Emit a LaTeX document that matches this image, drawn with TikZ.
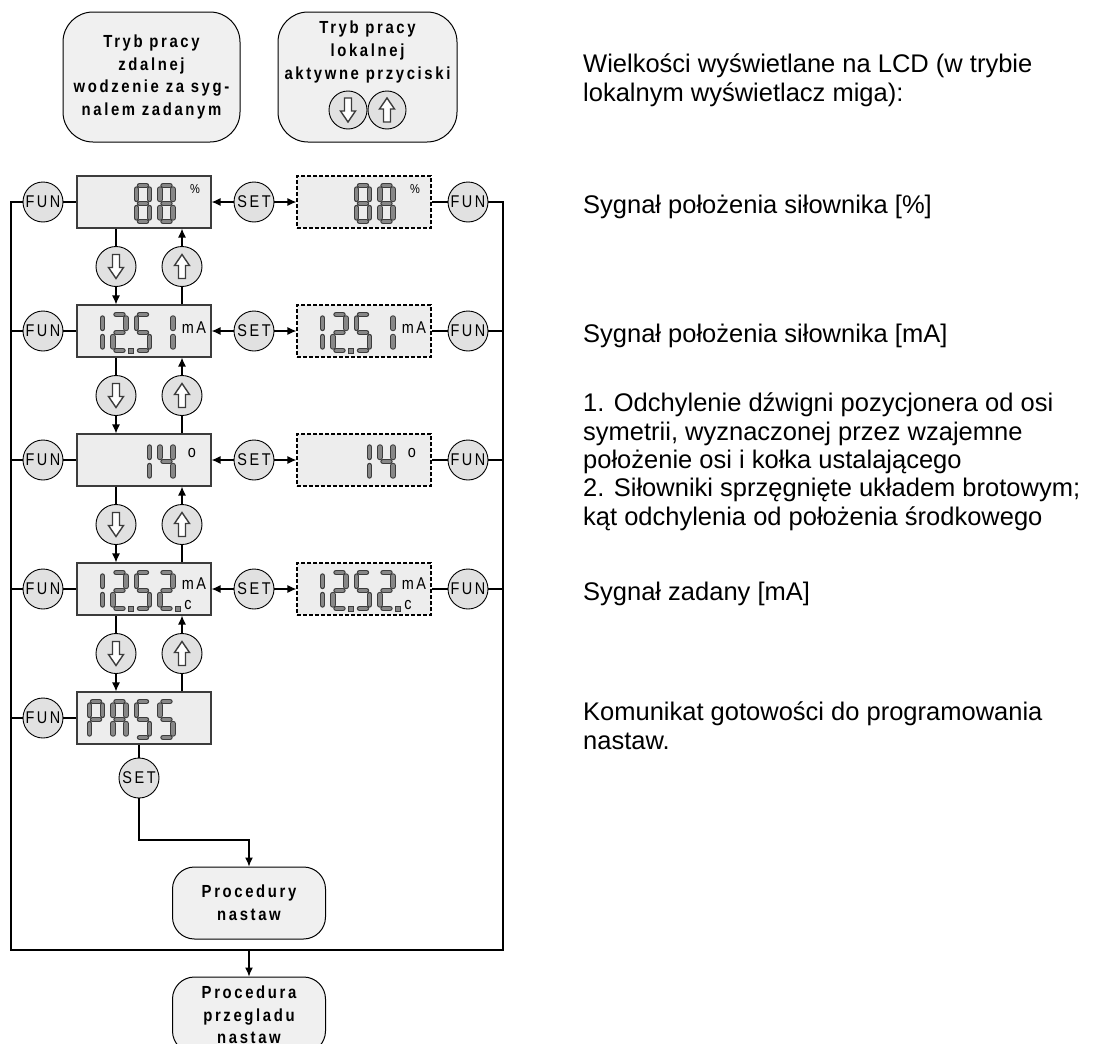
\documentclass[tikz,border=0pt]{standalone}
\usepackage{fontspec}
\setmainfont{Liberation Sans}
\newfontfamily\waskie[FakeStretch=0.85,LetterSpace=15]{Liberation Sans}
\usetikzlibrary{arrows.meta,calc,positioning}
\definecolor{przycisk}{HTML}{E1E1E1}
\definecolor{ekran}{HTML}{EDEDED}
\definecolor{ramka}{HTML}{F0F0F0}
\definecolor{segment}{HTML}{878787}
\definecolor{krawedz}{HTML}{3C3C3C}

% segmenty wyswietlacza (komorka 18 x 41, poczatek w lewym gornym rogu)
\newcommand\odcinek[2]{\draw[segkraw] (#1) -- (#2); \draw[segsrod] (#1) -- (#2);}
\newcommand\segA{\odcinek{5.5,2.5}{12.5,2.5}}
\newcommand\segB{\odcinek{15.5,6}{15.5,16.5}}
\newcommand\segC{\odcinek{15.5,24.5}{15.5,35}}
\newcommand\segD{\odcinek{5.5,38.5}{12.5,38.5}}
\newcommand\segE{\odcinek{2.5,24.5}{2.5,35}}
\newcommand\segF{\odcinek{2.5,6}{2.5,16.5}}
\newcommand\segG{\odcinek{5.5,20.5}{12.5,20.5}}
\newcommand\cJeden{\segB\segC}
\newcommand\cDwa{\segA\segB\segG\segE\segD}
\newcommand\cCztery{\segF\segG\segB\segC}
\newcommand\cPiec{\segA\segF\segG\segC\segD}
\newcommand\cOsiem{\segA\segB\segC\segD\segE\segF\segG}
\newcommand\cP{\segA\segB\segF\segG\segE}
\newcommand\cA{\segA\segB\segC\segE\segF\segG}
\newcommand\znak[2]{\begin{scope}[shift={({-57+23.5*#1},-19)}]#2\end{scope}}
\newcommand\kropka[1]{\draw[kropka] ({#1-2.5},17.5) rectangle ({#1+2.5},22.5);}

% tresc wyswietlaczy (#1 = przedrostek nazw)
\newcommand\ekranProc[1]{\znak{2}{\cOsiem}\znak{3}{\cOsiem}
  \node[jedn, font=\waskie\fontsize{13}{13}\selectfont] (#1j) at (51,-13) {\%};}
\newcommand\ekranMA[1]{\znak{0}{\cJeden}\znak{1}{\cDwa}\znak{2}{\cPiec}\znak{3}{\cJeden}
  \kropka{-13}\node[jedn] (#1j) at (50,-3) {mA};}
\newcommand\ekranKat[1]{\znak{2}{\cJeden}\znak{3}{\cCztery}
  \node[jedn] (#1j) at (48,-7) {o};}
\newcommand\ekranZad[1]{\znak{0}{\cJeden}\znak{1}{\cDwa}\znak{2}{\cPiec}\znak{3}{\cDwa}
  \kropka{-13}\kropka{34}\node[jedn] (#1j) at (50,-5) {mA};
  \node[jedn] (#1c) at (44,16) {c};}
\newcommand\ekranPass{\znak{0}{\cP}\znak{1}{\cA}\znak{2}{\cPiec}\znak{3}{\cPiec}}

\tikzset{
  pics/strzdol/.style={code={\draw[symb] (-3.5,-12) -- (3.5,-12) -- (3.5,1) -- (7.5,1)
      -- (0,12) -- (-7.5,1) -- (-3.5,1) -- cycle;}},
  pics/strzgora/.style={code={\draw[symb] (-3.5,12) -- (3.5,12) -- (3.5,-1) -- (7.5,-1)
      -- (0,-12) -- (-7.5,-1) -- (-3.5,-1) -- cycle;}}
}

\begin{document}
\begin{tikzpicture}[x=1pt, y=-1pt, >={Latex[length=9pt,width=8pt]},
    linia/.style={line width=1.2pt},
    przyc/.style={circle, draw, fill=przycisk, minimum size=40pt, inner sep=0pt,
                  line width=0.9pt, font=\waskie\fontsize{17}{17}\selectfont},
    lcd/.style={draw=krawedz, fill=ekran, minimum width=134pt, minimum height=52pt,
                inner sep=0pt, line width=1.1pt},
    lcdm/.style={lcd, draw=black, dash pattern=on 4pt off 2pt},
    tryb/.style={draw, fill=ramka, rounded corners=30pt, align=center, inner sep=0pt,
                 line width=1pt, font=\waskie\bfseries\fontsize{17.5}{22.7}\selectfont},
    napis/.style={align=center, inner sep=0pt, font=\waskie\bfseries\fontsize{17.5}{22.7}\selectfont},
    symb/.style={draw=krawedz, fill=white, line width=1.4pt},
    segkraw/.style={draw=krawedz, line width=5.4pt, line cap=round},
    segsrod/.style={draw=segment, line width=3.4pt, line cap=round},
    kropka/.style={draw=krawedz, fill=segment, line width=0.8pt},
    jedn/.style={inner sep=0pt, font=\waskie\fontsize{17}{17}\selectfont},
    opis/.style={anchor=base west, align=left, inner sep=0pt,
                 font=\fontsize{25.5}{28.3}\selectfont}]
  \path[use as bounding box, fill=white] (0,0) rectangle (1104,1044);

  % tryby pracy
  \node[tryb, minimum width=177pt, minimum height=130pt] (zdal) at (151.5,77)
    {Tryb pracy\\zdalnej\\wodzenie za syg-\\nalem zadanym};
  \node[tryb, minimum width=179pt, minimum height=130pt] (lok) at (367.5,77) {};
  \node[napis] (loktxt) at (367.5,52) {Tryb pracy\\lokalnej\\aktywne przyciski};
  \node[przyc, minimum size=38pt] (lokdol) at (348,110) {};
  \node[przyc, minimum size=38pt] (lokgora) at (387,110) {};
  \pic at (lokdol) {strzdol};
  \pic at (lokgora) {strzgora};

  % wiersze menu
  \foreach \i/\y in {1/202,2/331,3/460,4/589} {
    \node[lcd] (lcdL\i) at (144,\y) {};
    \node[lcdm] (lcdR\i) at (364,\y) {};
    \node[przyc] (funL\i) at (43,\y) {FUN};
    \node[przyc] (set\i) at (254,\y) {SET};
    \node[przyc] (funR\i) at (468,\y) {FUN};
    \draw[linia] (funL\i) -- (lcdL\i);
    \draw[linia, ->] (set\i) -- (lcdL\i);
    \draw[linia, ->] (set\i) -- (lcdR\i);
    \draw[linia] (lcdR\i) -- (funR\i);
  }
  \node[lcd] (lcdL5) at (144,718) {};
  \node[przyc] (funL5) at (43,718) {FUN};
  \draw[linia] (funL5) -- (lcdL5);

  % zawartosc wyswietlaczy
  \begin{scope}[shift={(lcdL1.center)}] \ekranProc{L1} \end{scope}
  \begin{scope}[shift={(lcdR1.center)}] \ekranProc{R1} \end{scope}
  \begin{scope}[shift={(lcdL2.center)}] \ekranMA{L2} \end{scope}
  \begin{scope}[shift={(lcdR2.center)}] \ekranMA{R2} \end{scope}
  \begin{scope}[shift={(lcdL3.center)}] \ekranKat{L3} \end{scope}
  \begin{scope}[shift={(lcdR3.center)}] \ekranKat{R3} \end{scope}
  \begin{scope}[shift={(lcdL4.center)}] \ekranZad{L4} \end{scope}
  \begin{scope}[shift={(lcdR4.center)}] \ekranZad{R4} \end{scope}
  \begin{scope}[shift={(lcdL5.center)}] \ekranPass \end{scope}

  % przyciski gora/dol
  \foreach \i/\j/\y in {1/2/266.5,2/3/395.5,3/4/524.5,4/5/653.5} {
    \node[przyc] (dol\i) at (116,\y) {};
    \node[przyc] (gora\i) at (182,\y) {};
    \pic at (dol\i) {strzdol};
    \pic at (gora\i) {strzgora};
    \draw[linia] (lcdL\i.south -| dol\i) -- (dol\i);
    \draw[linia, ->] (dol\i) -- (dol\i |- lcdL\j.north);
    \draw[linia] (lcdL\j.north -| gora\i) -- (gora\i);
    \draw[linia, ->] (gora\i) -- (gora\i |- lcdL\i.south);
  }

  % petla FUN
  \coordinate (lg) at (11,202);
  \coordinate (ld) at (11,950);
  \coordinate (pd) at (503,950);
  \coordinate (pg) at (503,202);
  \draw[linia] (funL1) -- (lg) -- (ld) -- (pd) -- (pg) -- (funR1);
  \foreach \i in {2,3,4,5} \draw[linia] (funL\i) -- (funL\i -| lg);
  \foreach \i in {2,3,4} \draw[linia] (funR\i) -- (funR\i -| pg);

  % procedury
  \node[przyc] (setP) at (139,778) {SET};
  \draw[linia] (lcdL5.south -| setP) -- (setP);
  \node[tryb, minimum width=153pt, minimum height=72pt, rounded corners=22pt] (nast) at (249,903)
    {Procedury\\nastaw};
  \node[tryb, minimum width=153pt, minimum height=76pt, rounded corners=22pt] (przeg) at (249,1015)
    {Procedura\\przegladu\\nastaw};
  \coordinate (kolano) at (249,840);
  \coordinate (petla) at (249,950);
  \draw[linia, ->] (setP) |- (kolano) -- (nast);
  \draw[linia, ->] (petla) -- (przeg);

  % opisy (base = ostatni wiersz)
  \node[opis] (t0) at (583,101) {Wielkości wyświetlane na LCD (w trybie\\lokalnym wyświetlacz miga):};
  \node[opis] (t1) at (583,213) {Sygnał położenia siłownika [\%]};
  \node[opis] (t2) at (583,342) {Sygnał położenia siłownika [mA]};
  \node[opis] (t3) at (583,525) {1. Odchylenie dźwigni pozycjonera od osi\\symetrii, wyznaczonej przez wzajemne\\położenie osi i kołka ustalającego\\2. Siłowniki sprzęgnięte układem brotowym;\\kąt odchylenia od położenia środkowego};
  \node[opis] (t4) at (583,600) {Sygnał zadany [mA]};
  \node[opis] (t5) at (583,749) {Komunikat gotowości do programowania\\nastaw.};
\end{tikzpicture}
\end{document}
